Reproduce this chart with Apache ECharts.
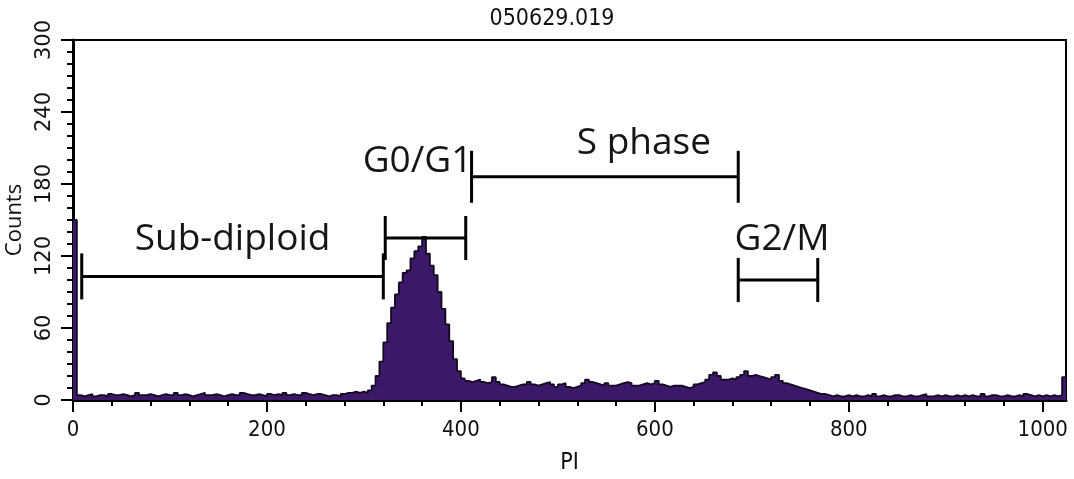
<!DOCTYPE html>
<html><head><meta charset="utf-8">
<script src="https://cdn.jsdelivr.net/npm/echarts@6/dist/echarts.min.js"></script>
<style>html,body{margin:0;padding:0;background:#fff}#c{width:1074px;height:479px}</style>
</head><body><div id="c"></div>
<script>
// ---- data ----
const chartTitle = '050629.019';
const binWidth = 4;           // channels per bin
const channelMax = 1024;
const counts = [
  150,
  4,3,4,5,3,4,4,3,5,4,
  4,5,4,3,4,6,4,4,5,4,
  3,4,5,4,4,6,4,5,4,3,
  4,5,6,4,4,5,4,3,4,5,
  4,4,6,5,4,4,5,4,3,5,
  4,5,4,6,4,5,4,4,6,5,
  4,5,5,4,3,4,4,3,
  5,6,6,7,6,7,
  6,8,12,20,32,48,64,77,88,98,106,108,118,124,128,136,122,112,104,90,76,63,49,34,24,18,16,15,
  16,17,15,14,15,19,15,13,12,11,
  11,12,13,13,15,13,12,13,14,15,
  13,11,13,14,11,10,11,12,14,17,
  15,14,13,12,14,12,12,13,14,15,
  14,12,12,13,14,13,14,16,13,12,
  11,12,12,12,11,10,11,13,14,15,
  17,21,23,20,17,17,18,17,19,21,
  24,20,21,20,19,18,17,19,21,16,
  14,13,12,11,10,9,8,7,6,5,
  5,4,3,4,3,3,4,
  3,4,3,3,4,3,5,3,4,3,
  3,4,4,3,3,4,3,3,4,5,
  3,3,4,3,4,3,3,4,3,4,
  3,4,3,3,5,3,4,4,3,3,
  4,3,3,4,3,5,4,3,4,3,
  4,3,4,3,4,
  19
];
const xTicks = [0, 200, 400, 600, 800, 1000];
const xMinorTicks = [40,80,120,160,240,280,320,360,440,480,520,560,640,680,720,760,840,880,920,960];
const yMin = 0, yMax = 300, yInterval = 60;

const gateNames = ['Sub-diploid', 'G0/G1', 'S phase', 'G2/M'];
const gateStart = [9, 322, 411, 686];
const gateEnd   = [320, 405, 686, 768];
const gateLevel = [103, 135, 186, 100];

// ---- styles (pixels) ----
const capHalf = [23, 22, 26, 22];
const labelOffset = [[0, -37], [-8, -77], [39, -33], [4, -41]];
const narrowFont = '"DejaVu Sans Condensed","Liberation Sans Narrow",sans-serif';

const histData = counts.map((c, i) => [i * binWidth, c]);
histData.push([channelMax, counts[counts.length - 1]]);

const chart = echarts.init(document.getElementById('c'), null, {renderer: 'canvas'});
chart.setOption({
  animation: false,
  backgroundColor: '#fff',
  title: {
    text: chartTitle, left: 547, top: 3, textAlign: 'center',
    textStyle: {fontFamily: narrowFont, fontSize: 23, fontWeight: 'normal', color: '#111'}
  },
  grid: {left: 73, right: 8, top: 40, bottom: 79, show: true, borderColor: '#000', borderWidth: 2, outerBoundsMode: 'none'},
  xAxis: [{
    type: 'value', min: 0, max: channelMax,
    name: 'PI', nameLocation: 'middle', nameGap: 52,
    nameTextStyle: {fontFamily: narrowFont, fontSize: 23, color: '#111'},
    axisLine: {show: true, lineStyle: {color: '#000', width: 3}},
    axisTick: {show: true, customValues: xTicks, length: 12, lineStyle: {color: '#000', width: 2}},
    axisLabel: {customValues: xTicks, fontFamily: narrowFont, fontSize: 22, color: '#111', margin: 19,
      formatter: v => String(v)},
    splitLine: {show: false}
  }, {
    type: 'value', min: 0, max: channelMax, position: 'bottom',
    axisLine: {show: false},
    axisTick: {show: true, customValues: xMinorTicks, length: 6, lineStyle: {color: '#000', width: 2}},
    axisLabel: {show: false},
    splitLine: {show: false}
  }],
  yAxis: {
    type: 'value', min: yMin, max: yMax, interval: yInterval,
    name: 'Counts', nameLocation: 'middle', nameGap: 38, nameRotate: 90,
    nameTextStyle: {fontFamily: '"Open Sans",sans-serif', fontSize: 22, color: '#111'},
    axisLine: {show: true, lineStyle: {color: '#000', width: 3}},
    axisTick: {show: true, length: 12, lineStyle: {color: '#000', width: 2}},
    minorTick: {show: true, splitNumber: 6, length: 6, lineStyle: {color: '#000', width: 2}},
    axisLabel: {rotate: 90, fontFamily: '"DejaVu Sans",sans-serif', fontSize: 21, color: '#111', margin: 18},
    splitLine: {show: false}, minorSplitLine: {show: false}
  },
  series: [{
    type: 'line', step: 'end', data: histData, showSymbol: false, silent: true,
    lineStyle: {color: '#140820', width: 1.8},
    areaStyle: {color: '#3b1868', opacity: 1},
    z: 2
  }, {
    type: 'custom', silent: true, clip: false, z: 5,
    data: gateNames.map((n, i) => [gateStart[i], gateEnd[i], gateLevel[i]]),
    renderItem: function (params, api) {
      const i = params.dataIndex;
      const s = api.coord([api.value(0), api.value(2)]);
      const e = api.coord([api.value(1), api.value(2)]);
      const h = capHalf[i];
      const off = labelOffset[i];
      const st = {stroke: '#000', lineWidth: 3};
      return {type: 'group', children: [
        {type: 'line', shape: {x1: s[0], y1: s[1], x2: e[0], y2: e[1]}, style: st},
        {type: 'line', shape: {x1: s[0], y1: s[1] - h, x2: s[0], y2: s[1] + h}, style: st},
        {type: 'line', shape: {x1: e[0], y1: e[1] - h, x2: e[0], y2: e[1] + h}, style: st},
        {type: 'text', x: (s[0] + e[0]) / 2 + off[0], y: s[1] + off[1],
          style: {text: gateNames[i], font: '37px "Open Sans", sans-serif', fill: '#151515', align: 'center', verticalAlign: 'middle'}}
      ]};
    }
  }]
});
</script>
</body></html>
